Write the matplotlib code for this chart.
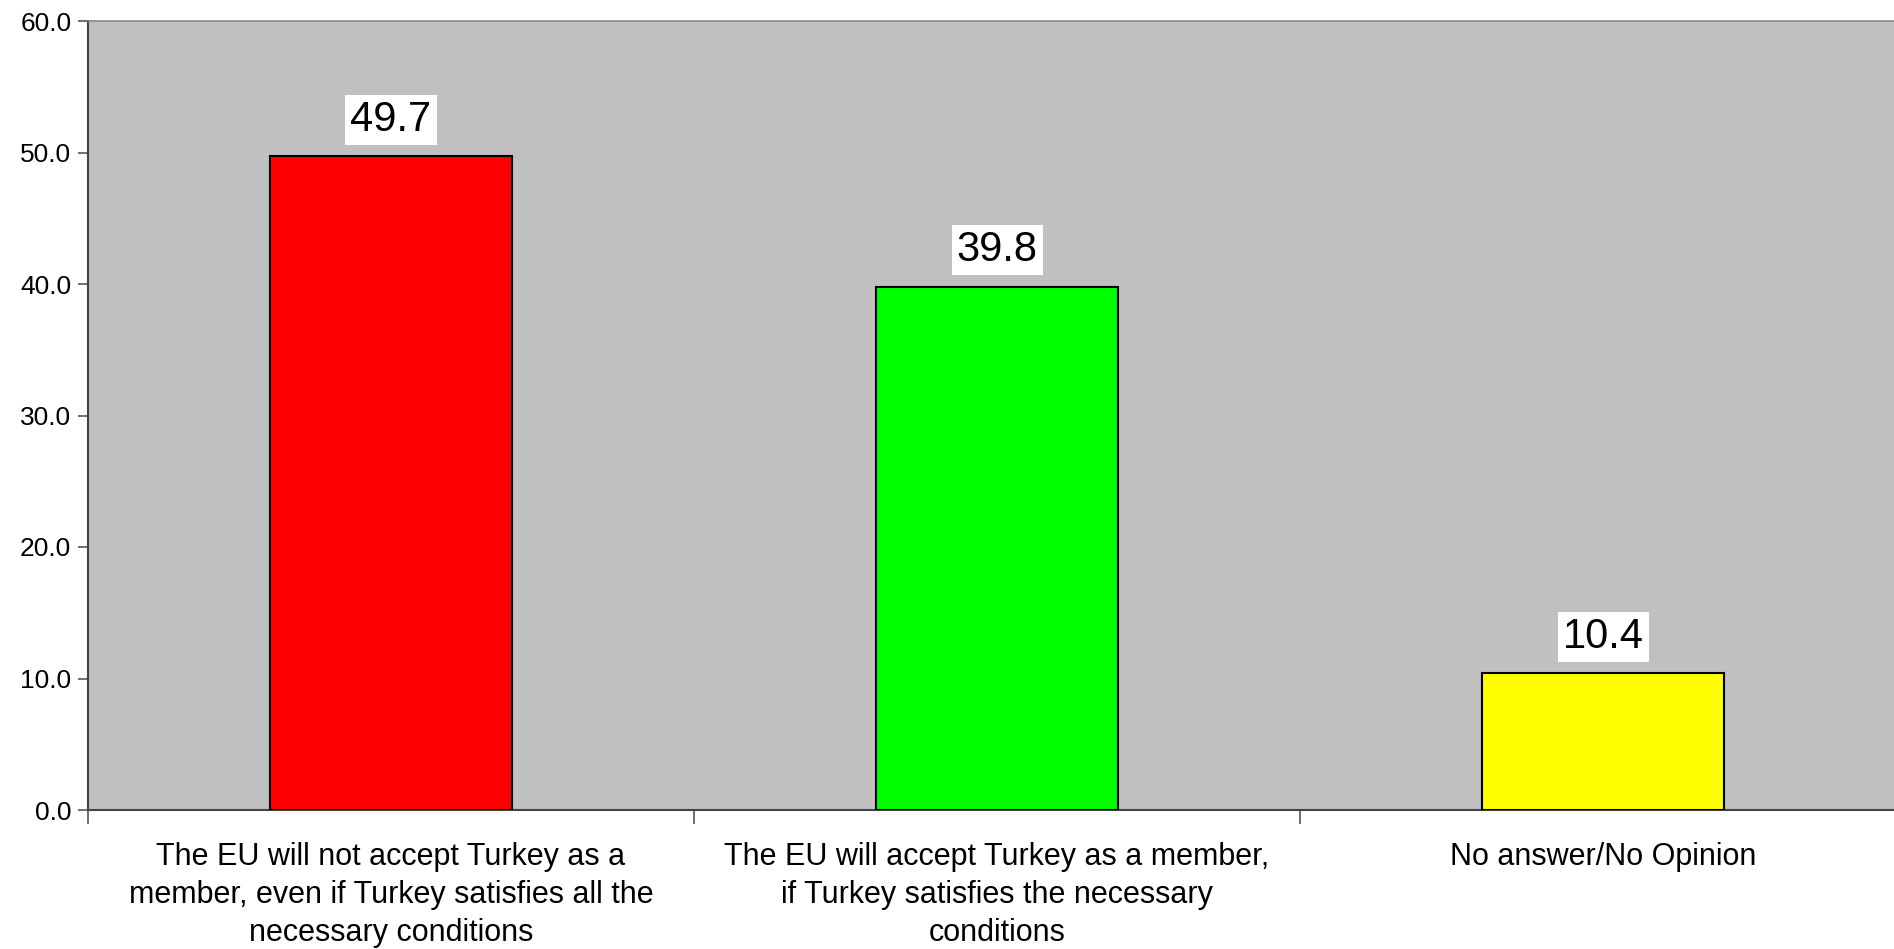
import matplotlib
matplotlib.use("Agg")
import matplotlib.pyplot as plt
from matplotlib.ticker import FormatStrFormatter

plt.rcParams['font.family'] = ['Liberation Sans', 'DejaVu Sans']

categories = [
    "The EU will not accept Turkey as a\nmember, even if Turkey satisfies all the\nnecessary conditions",
    "The EU will accept Turkey as a member,\nif Turkey satisfies the necessary\nconditions",
    "No answer/No Opinion",
]
values = [49.7, 39.8, 10.4]
colors = ["#FF0000", "#00FF00", "#FFFF00"]
yticks = [0, 10, 20, 30, 40, 50, 60]

fig = plt.figure(figsize=(18.94, 9.49), dpi=100)
ax = fig.add_axes([88/1894, 1 - 810/949, 1 - 88/1894, (810 - 21)/949])
ax.set_facecolor("#C0C0C0")

x = list(range(len(values)))
ax.bar(x, values, width=0.40, color=colors, edgecolor="black", linewidth=1.5, zorder=3)

for xi, v in zip(x, values):
    ax.annotate(f"{v:.1f}", xy=(xi, v), xytext=(0, 12), textcoords="offset points",
                ha="center", va="bottom", fontsize=30,
                bbox=dict(boxstyle="square,pad=0.12", fc="white", ec="none"), zorder=4)

ax.set_yticks(yticks)
ax.yaxis.set_major_formatter(FormatStrFormatter("%.1f"))
ax.tick_params(axis="y", labelsize=19, length=7, width=1.2, color="#555555", pad=5, direction="out")

ax.set_xticks([-0.5, 0.5, 1.5])
ax.set_xticklabels([])
ax.tick_params(axis="x", length=10, width=1.2, color="#555555", direction="out")
ax.set_xticks(x, minor=True)
ax.set_xticklabels(categories, minor=True, fontsize=22, linespacing=1.35)
ax.tick_params(axis="x", which="minor", length=0, pad=23)

ax.set_xlim(-0.5, 2.48)
ax.set_ylim(0, 60)

for s in ["left", "bottom"]:
    ax.spines[s].set_color("#444444")
    ax.spines[s].set_linewidth(1.5)
ax.spines["top"].set_color("#888888")
ax.spines["top"].set_linewidth(1.2)
ax.spines["right"].set_visible(False)

fig.savefig("out.png", dpi=100)
